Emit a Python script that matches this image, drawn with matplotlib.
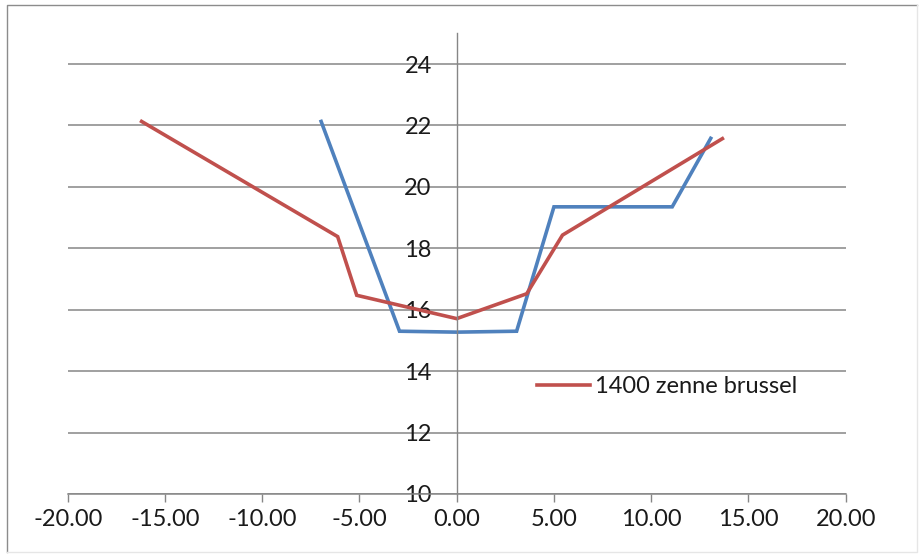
import matplotlib.pyplot as plt
from matplotlib.lines import Line2D
from matplotlib.ticker import FuncFormatter, MultipleLocator

# cross-section profiles (distance from centre, level)
blue_x = [-6.97, -2.94, 0.00, 3.08, 5.00, 11.08, 13.06]
blue_y = [22.13, 15.30, 15.27, 15.30, 19.35, 19.35, 21.58]

red_x = [-16.20, -6.12, -5.14, 0.00, 3.60, 5.44, 13.66]
red_y = [22.13, 18.38, 16.47, 15.71, 16.52, 18.43, 21.57]
red_label = '1400 zenne brussel'

plt.rcParams['font.family'] = ['Lato', 'DejaVu Sans']

fig = plt.figure(figsize=(9.19, 5.56), dpi=100)
ax = fig.add_axes([67.7 / 919, 62 / 556, 778 / 919, 460.7 / 556])

grid_col = '#868686'
txt_col = '#1a1a1a'
fs = 17

ax.plot(blue_x, blue_y, color='#4F81BD', linewidth=2.6, solid_joinstyle='miter')
ax.plot(red_x, red_y, color='#C0504D', linewidth=2.6, label=red_label,
        solid_joinstyle='miter')

ax.set_xlim(-20, 20)
ax.set_ylim(10, 25)
ax.xaxis.set_major_locator(MultipleLocator(5))
ax.set_yticks(range(10, 25, 2))
ax.xaxis.set_major_formatter(FuncFormatter(lambda v, p: f'{v:.2f}'))
ax.yaxis.set_major_formatter(FuncFormatter(lambda v, p: f'{v:.0f}'))

ax.grid(axis='y', color=grid_col, linewidth=1.1)
ax.set_axisbelow(True)
for s in ['top', 'right']:
    ax.spines[s].set_visible(False)
ax.spines['left'].set_position(('data', 0))
ax.spines['left'].set_color(grid_col)
ax.spines['bottom'].set_color(grid_col)
ax.spines['left'].set_linewidth(1.0)
ax.spines['bottom'].set_linewidth(1.1)
ax.tick_params(axis='x', colors=grid_col, length=5.5, width=1, labelsize=fs,
               labelcolor=txt_col, pad=5)
ax.tick_params(axis='y', colors=grid_col, length=0, labelsize=fs,
               labelcolor=txt_col, pad=18)

leg = ax.legend(loc='center left', bbox_to_anchor=((536.7 - 67.7) / 778, (494 - 386.7) / 460.7),
                frameon=False, fontsize=fs, handlelength=2.25, handletextpad=0.2,
                borderaxespad=0, borderpad=0)
for t in leg.get_texts():
    t.set_color(txt_col)

# chart area border: strong on top/left, faint on right/bottom
W, H = 919, 556
fig.lines.append(Line2D([7 / W, 7 / W, 917 / W], [4 / H, 551 / H, 551 / H],
                        transform=fig.transFigure, color='#8c8c8c', linewidth=1.0))
fig.lines.append(Line2D([7 / W, 917 / W, 917 / W], [4 / H, 4 / H, 551 / H],
                        transform=fig.transFigure, color='#e6e6e6', linewidth=1.0))

fig.savefig('out.png', dpi=100)
